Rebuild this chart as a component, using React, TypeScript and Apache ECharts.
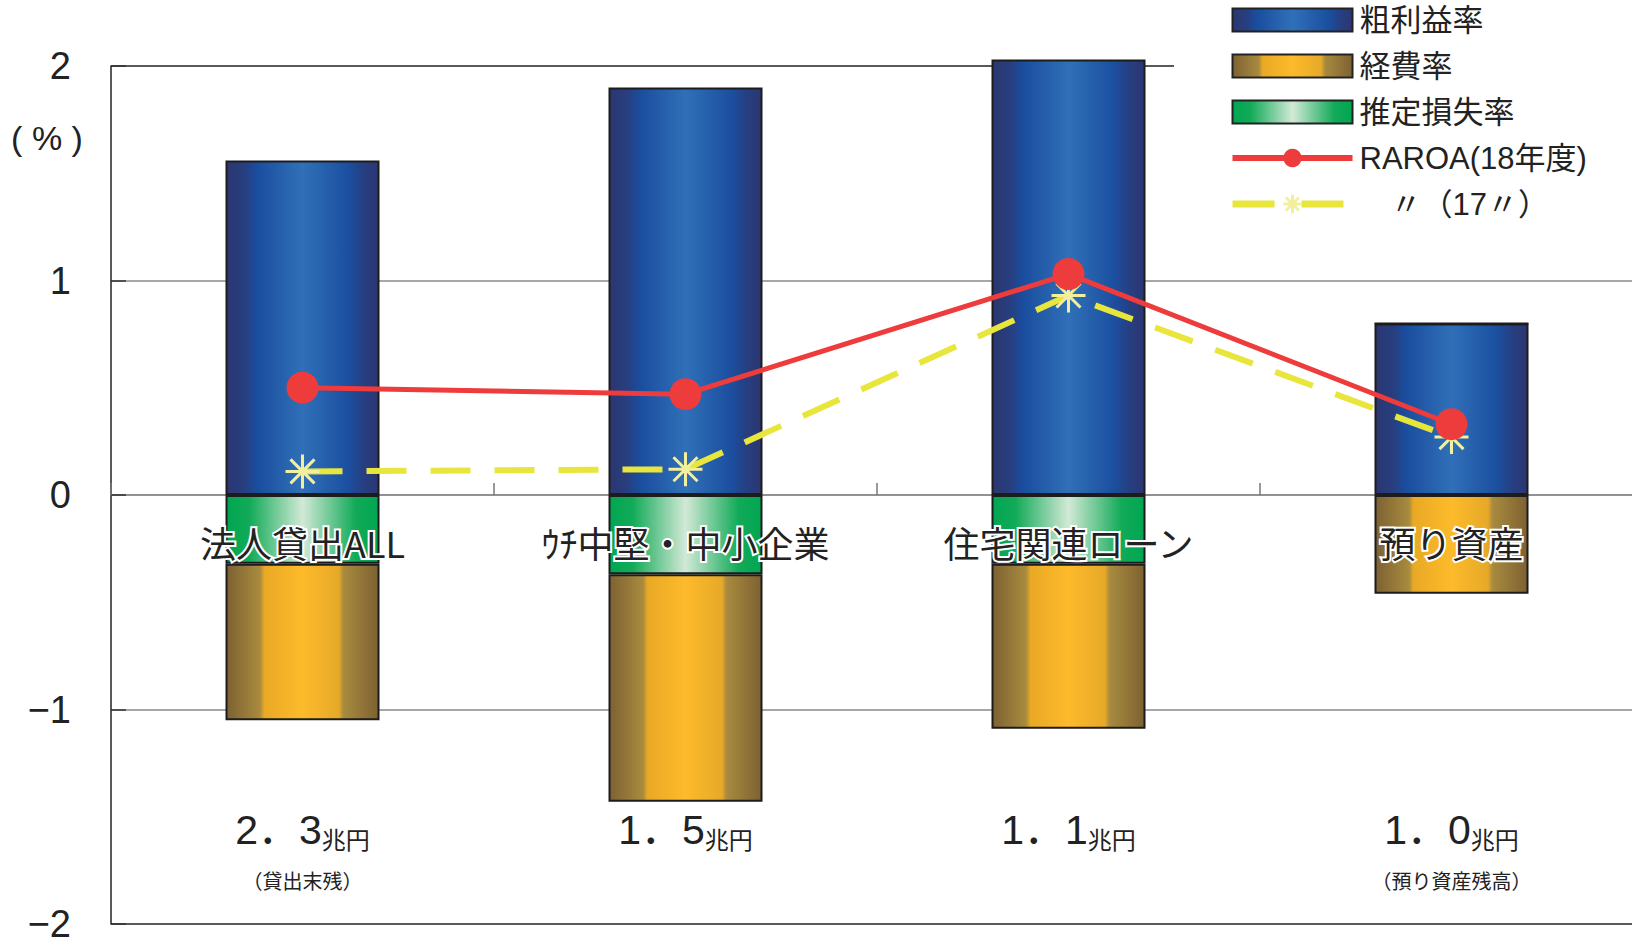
import React, { useEffect, useRef } from 'react';
import * as echarts from 'echarts';

const categories = ['法人貸出ALL', 'ｳﾁ中堅・中小企業', '住宅関連ローン', '預り資産'];
const grossMarginRate = [1.56, 1.9, 2.03, 0.8];
const estimatedLossRate = [0.32, 0.37, 0.32, 0];
const expenseRate = [0.73, 1.06, 0.77, 0.46];
const raroa18 = [0.5, 0.47, 1.03, 0.33];
const raroa17 = [0.11, 0.12, 0.93, 0.27];
const balanceAmounts = ['2．3', '1．5', '1．1', '1．0'];
const balanceUnit = '兆円';
const balanceNotes = ['（貸出末残）', '', '', '（預り資産残高）'];
const yMin = -2;
const yMax = 2;
const yInterval = 1;

const NAME_GROSS = '粗利益率';
const NAME_EXPENSE = '経費率';
const NAME_LOSS = '推定損失率';
const NAME_R18 = 'RAROA(18年度)';
const NAME_R17 = '　〃（17〃）';

const LATIN = "'Liberation Sans', 'Noto Sans CJK JP', sans-serif";
const CJK = "'Noto Sans CJK JP', sans-serif";

const STAR = 'path://M16 0L16 32M0 16L32 16M4.7 4.7L27.3 27.3M4.7 27.3L27.3 4.7';

function hGrad(stops: [number, string][]) {
  return new echarts.graphic.LinearGradient(
    0, 0, 1, 0,
    stops.map(([offset, color]) => ({ offset, color }))
  );
}

export default function App() {
  const ref = useRef<HTMLDivElement>(null);

  useEffect(() => {
    document.body.style.margin = '0';
    if (!ref.current) return;
    const chart = echarts.init(ref.current, null, { renderer: 'svg' });

    const blue = hGrad([
      [0, '#2b3670'], [0.12, '#273f80'], [0.2, '#1a4d9e'], [0.5, '#3070b8'],
      [0.8, '#1b4fa0'], [0.9, '#263f82'], [1, '#2b3670'],
    ]);
    const gold = hGrad([
      [0, '#7d6132'], [0.22, '#a88b3e'], [0.25, '#e9a925'], [0.5, '#fdba2b'],
      [0.74, '#e6a928'], [0.77, '#a88b3e'], [1, '#7d6132'],
    ]);
    const green = hGrad([
      [0, '#00a651'], [0.15, '#12aa58'], [0.5, '#d2e9d6'], [0.85, '#12aa58'], [1, '#00a651'],
    ]);

    const barBorder = { borderColor: '#1c1c1c', borderWidth: 2 };

    const option: any = {
      animation: false,
      backgroundColor: '#ffffff',
      grid: {
        left: 111, right: -11, top: 66, bottom: 20,
        containLabel: false, outerBoundsMode: 'none',
      },
      legend: {
        orient: 'vertical',
        left: 1174,
        top: 0,
        padding: [3, 80, 6, 55],
        backgroundColor: '#ffffff',
        itemWidth: 120,
        itemHeight: 23,
        itemGap: 12,
        textStyle: {
          fontSize: 31,
          lineHeight: 34,
          color: '#222',
          fontFamily: LATIN,
          padding: [0, 0, 0, 2],
        },
        data: [
          { name: NAME_GROSS, icon: 'rect', itemStyle: { borderColor: '#222', borderWidth: 2 } },
          { name: NAME_EXPENSE, icon: 'rect', itemStyle: { borderColor: '#222', borderWidth: 2 } },
          { name: NAME_LOSS, icon: 'rect', itemStyle: { borderColor: '#222', borderWidth: 2 } },
          { name: NAME_R18, lineStyle: { width: 6, color: '#ee3b3b' } },
          {
            name: NAME_R17,
            lineStyle: { width: 7, color: '#e8e63c', type: [42, 27] },
            itemStyle: { color: '#f2f09c', borderColor: '#f2f09c', borderWidth: 3 },
          },
        ],
      },
      graphic: [
        {
          type: 'text',
          x: 47,
          y: 138,
          style: {
            text: '( % )',
            fontSize: 34,
            fontFamily: LATIN,
            fill: '#222',
            align: 'center',
            verticalAlign: 'middle',
          },
        },
      ],
      xAxis: [
        {
          type: 'category',
          data: categories,
          position: 'bottom',
          axisLine: { show: true, onZero: true, lineStyle: { color: '#8a8a8a', width: 1.5 } },
          axisTick: { show: true, inside: true, length: 12, lineStyle: { color: '#777', width: 1.5 } },
          axisLabel: { show: false },
          splitLine: { show: false },
          z: 0,
        },
        {
          type: 'category',
          data: categories,
          position: 'bottom',
          axisLine: { show: false, onZero: false },
          axisTick: { show: false },
          splitLine: { show: false },
          axisLabel: {
            interval: 0,
            margin: -400,
            fontSize: 36,
            color: '#222',
            fontFamily: CJK,
            textBorderColor: '#ffffff',
            textBorderWidth: 4,
          },
          z: 10,
        },
        {
          type: 'category',
          data: categories,
          position: 'bottom',
          axisLine: { show: false, onZero: false },
          axisTick: { show: false },
          splitLine: { show: false },
          axisLabel: {
            interval: 0,
            margin: -114,
            formatter: (_v: string, i: number) => {
              let s = `{big|${balanceAmounts[i]}}{unit|${balanceUnit}}`;
              if (balanceNotes[i]) s += `\n{sub|${balanceNotes[i]}}`;
              return s;
            },
            rich: {
              big: { fontSize: 41, fontFamily: LATIN, color: '#222', lineHeight: 40 },
              unit: { fontSize: 24, fontFamily: CJK, color: '#222', lineHeight: 30, verticalAlign: 'bottom' },
              sub: { fontSize: 20, fontFamily: CJK, color: '#222', lineHeight: 60 },
            },
          },
        },
      ],
      yAxis: {
        type: 'value',
        min: yMin,
        max: yMax,
        interval: yInterval,
        axisLine: { show: true, lineStyle: { color: '#222', width: 1.5 } },
        axisTick: { show: true, inside: true, length: 15, lineStyle: { color: '#333', width: 1.5 } },
        axisLabel: {
          margin: 40,
          fontSize: 38,
          color: '#222',
          fontFamily: LATIN,
          formatter: (v: number) => (v < 0 ? '−' + Math.abs(v) : String(v)),
        },
        splitLine: {
          show: true,
          lineStyle: { color: ['#222', '#8a8a8a', '#8a8a8a', '#8a8a8a', '#222'], width: 1.5 },
        },
      },
      series: [
        {
          name: NAME_GROSS,
          type: 'bar',
          stack: 'rate',
          data: grossMarginRate,
          barWidth: 154,
          clip: false,
          itemStyle: { color: blue, ...barBorder },
          z: 2,
        },
        {
          name: NAME_LOSS,
          type: 'bar',
          stack: 'rate',
          data: estimatedLossRate.map((v) => -v),
          barWidth: 154,
          clip: false,
          itemStyle: { color: green, ...barBorder },
          z: 2,
        },
        {
          name: NAME_EXPENSE,
          type: 'bar',
          stack: 'rate',
          data: expenseRate.map((v) => -v),
          barWidth: 154,
          clip: false,
          itemStyle: { color: gold, ...barBorder },
          z: 2,
        },
        {
          name: NAME_R17,
          type: 'line',
          data: raroa17,
          symbol: STAR,
          symbolSize: 34,
          lineStyle: { color: '#e8e63c', width: 6, type: [40, 24] },
          itemStyle: { color: '#f2f09c', borderColor: '#f2f09c', borderWidth: 3 },
          z: 3,
        },
        {
          name: NAME_R18,
          type: 'line',
          data: raroa18,
          symbol: 'circle',
          symbolSize: 32,
          lineStyle: { color: '#ee3b3b', width: 5 },
          itemStyle: { color: '#ee3b3b' },
          z: 4,
        },
      ],
    };

    chart.setOption(option);
    return () => chart.dispose();
  }, []);

  return <div ref={ref} style={{ width: 1632, height: 944 }} />;
}
